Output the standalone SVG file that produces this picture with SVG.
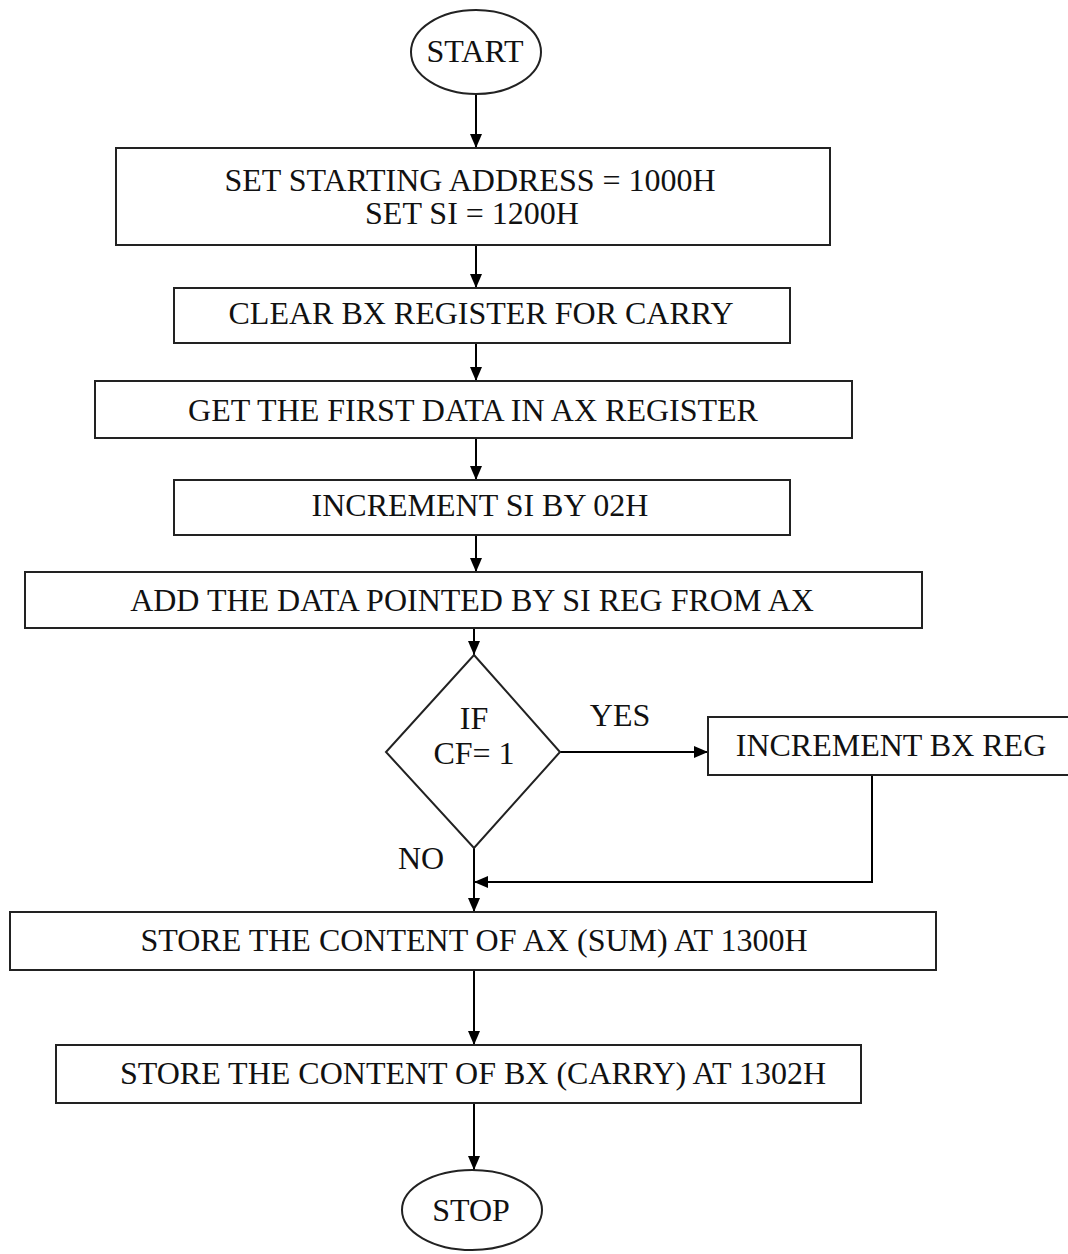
<svg xmlns="http://www.w3.org/2000/svg" width="1068" height="1254" viewBox="0 0 1068 1254">
  <defs>
    <marker id="arrow" viewBox="0 0 14 12" refX="14" refY="6" markerWidth="14" markerHeight="12" markerUnits="userSpaceOnUse" orient="auto">
      <path d="M0,0 L14,6 L0,12 z" fill="#000"/>
    </marker>
    <style>
      .shape { fill: #fff; stroke: #222; stroke-width: 2; }
      .label { font-family: "Liberation Serif", "Times New Roman", serif; font-size: 32px; fill: #111; text-anchor: middle; }
      .wire { fill: none; stroke: #000; stroke-width: 2; }
      .wire-arrow { fill: none; stroke: #000; stroke-width: 2; marker-end: url(#arrow); }
    </style>
  </defs>
  <rect width="1068" height="1254" fill="#fff"/>

  <!-- connectors -->
  <g id="connectors">
    <line class="wire-arrow" x1="476" y1="95" x2="476" y2="148"/>
    <line class="wire-arrow" x1="476" y1="245" x2="476" y2="288"/>
    <line class="wire-arrow" x1="476" y1="343" x2="476" y2="381"/>
    <line class="wire-arrow" x1="476" y1="438" x2="476" y2="480"/>
    <line class="wire-arrow" x1="476" y1="535" x2="476" y2="572"/>
    <line class="wire-arrow" x1="474" y1="628" x2="474" y2="655"/>
    <line class="wire-arrow" x1="560" y1="752" x2="708" y2="752"/>
    <polyline class="wire-arrow" points="872,775 872,882 474,882"/>
    <line class="wire-arrow" x1="474" y1="848" x2="474" y2="912"/>
    <line class="wire-arrow" x1="474" y1="970" x2="474" y2="1045"/>
    <line class="wire-arrow" x1="474" y1="1103" x2="474" y2="1170"/>
    <text class="label" x="620" y="726">YES</text>
    <text class="label" x="421" y="869">NO</text>
  </g>

  <g id="start">
    <ellipse class="shape" cx="476" cy="52" rx="65" ry="42"/>
    <text class="label" x="475" y="62">START</text>
  </g>

  <g id="set-address">
    <rect class="shape" x="116" y="148" width="714" height="97"/>
    <text class="label" x="470" y="191">SET STARTING ADDRESS = 1000H</text>
    <text class="label" x="472" y="224">SET SI = 1200H</text>
  </g>

  <g id="clear-bx">
    <rect class="shape" x="174" y="288" width="616" height="55"/>
    <text class="label" x="481" y="324">CLEAR BX REGISTER FOR CARRY</text>
  </g>

  <g id="get-first">
    <rect class="shape" x="95" y="381" width="757" height="57"/>
    <text class="label" x="473" y="421">GET THE FIRST DATA IN AX REGISTER</text>
  </g>

  <g id="inc-si">
    <rect class="shape" x="174" y="480" width="616" height="55"/>
    <text class="label" x="480" y="516">INCREMENT SI BY 02H</text>
  </g>

  <g id="add-data">
    <rect class="shape" x="25" y="572" width="897" height="56"/>
    <text class="label" x="472" y="611">ADD THE DATA POINTED BY SI REG FROM AX</text>
  </g>

  <g id="check-cf">
    <polygon class="shape" points="474,655 560,752 474,848 386,752"/>
    <text class="label" x="474" y="729">IF</text>
    <text class="label" x="474" y="764">CF= 1</text>
  </g>

  <g id="inc-bx">
    <rect class="shape" x="708" y="717" width="366" height="58"/>
    <text class="label" x="891" y="756">INCREMENT BX REG</text>
  </g>

  <g id="store-sum">
    <rect class="shape" x="10" y="912" width="926" height="58"/>
    <text class="label" x="474" y="951">STORE THE CONTENT OF AX (SUM) AT 1300H</text>
  </g>

  <g id="store-carry">
    <rect class="shape" x="56" y="1045" width="805" height="58"/>
    <text class="label" x="473" y="1084">STORE THE CONTENT OF BX (CARRY) AT 1302H</text>
  </g>

  <g id="stop">
    <ellipse class="shape" cx="472" cy="1210" rx="70" ry="40"/>
    <text class="label" x="471" y="1221">STOP</text>
  </g>
</svg>
